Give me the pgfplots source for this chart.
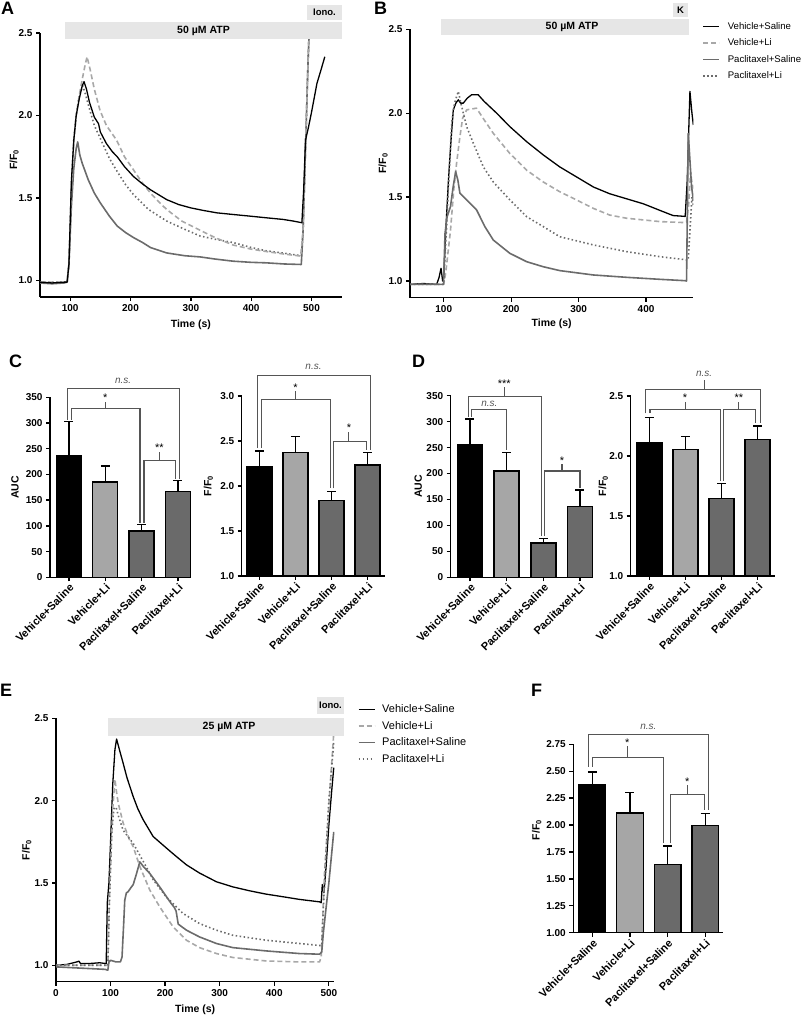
\documentclass[border=0pt]{standalone}
\usepackage{fontspec}
\setmainfont{Liberation Sans}
\usepackage{pgfplots}
\pgfplotsset{compat=1.18}

\definecolor{lgray}{HTML}{A8A8A8}
\definecolor{dgray}{HTML}{6B6B6B}
\definecolor{barlight}{HTML}{A6A6A6}
\definecolor{bardark}{HTML}{6A6A6A}
\definecolor{atpbar}{HTML}{E6E6E6}
\definecolor{brk}{HTML}{555555}
\definecolor{nsgray}{HTML}{555555}

\newcommand\fs[1]{\fontsize{#1}{#1}\selectfont}

\tikzset{
 VS/.style={black, line width=1.3pt, line join=round},
 VL/.style={lgray, line width=1.6pt, dash pattern=on 5pt off 3pt, line join=round},
 PS/.style={dgray, line width=1.6pt, line join=round},
 PL/.style={dgray, line width=1.6pt, dash pattern=on 1.5pt off 2.5pt, line join=round},
 brk/.style={draw=brk, line width=1.1pt},
 ns/.style={anchor=south, inner sep=0pt, font=\fs{10}\itshape, text=nsgray},
 star/.style={anchor=south, inner sep=0pt, font=\fs{11}},
}

\pgfplotsset{
 base/.style={
   scale only axis, axis lines=left, axis line style={-, line width=1.4pt},
   tick align=outside, major tick length=4pt, tick style={line width=1.3pt, black},
   /pgf/number format/assume math mode=true,
   tick label style={font=\fs{10}\bfseries},
   label style={font=\fs{10.5}\bfseries},
   anchor=south west,
 },
 trace/.style={base, ymin=0.9, ymax=2.5, ytick={1,1.5,2,2.5},
   yticklabel style={/pgf/number format/.cd, fixed, fixed zerofill, precision=1},
   xlabel={Time (s)}, ylabel={F/F\textsubscript{0}},
   xlabel style={anchor=center}, ylabel style={anchor=center}},
 barax/.style={base, clip=false, xtick={0,1,2,3},
   xticklabels={Vehicle+Saline, Vehicle+Li, Paclitaxel+Saline, Paclitaxel+Li},
   xticklabel style={rotate=45, anchor=north east, font=\fs{11}\bfseries, inner sep=1pt},
   ylabel style={anchor=center}},
 bb/.style={ybar, bar width=#1, draw=black, line width=1.4pt,
   error bars/y dir=plus, error bars/y explicit,
   error bars/error bar style={line width=1.3pt, black, solid},
   error bars/error mark options={rotate=90, mark size=4.5pt, line width=1.3pt, black}},
 bb/.default=25pt,
 leg/.style={legend cell align=left,
   legend image code/.code={\draw[##1] (0pt,0pt) -- (16pt,0pt);}},
}

\begin{document}
\begin{tikzpicture}
\useasboundingbox (0,0) rectangle (800pt,1016pt);

% ---------------- Panel A ----------------
\begin{axis}[trace, at={(40pt,719pt)}, width=301.7pt, height=264pt,
  xmin=50, xmax=550, xtick={100,200,300,400,500},
  xlabel style={at={(axis description cs:0.5,-0.106)}},
  ylabel style={at={(axis description cs:-0.086,0.52)}}]
\addplot[PS] coordinates {(50,0.985)(70,0.98)(90,0.985)(95,0.99)(98,1.1)(102,1.45)(106,1.68)(110,1.8)(112.5,1.84)(116,1.76)(120,1.71)(125,1.66)(130,1.61)(140,1.53)(150,1.47)(165,1.39)(178,1.33)(192,1.29)(205,1.26)(220,1.23)(233,1.20)(260,1.167)(290,1.15)(315,1.143)(340,1.13)(370,1.117)(400,1.11)(425,1.107)(455,1.10)(483,1.097)(486,1.3)(490,1.8)(494,2.3)(498,2.7)};
\addplot[PL] coordinates {(50,0.99)(95,0.99)(98,1.1)(102,1.55)(106,1.85)(110,2.0)(115,2.12)(121,2.18)(126,2.12)(132,2.04)(140,1.94)(150,1.86)(165,1.74)(178,1.66)(192,1.58)(205,1.52)(230,1.43)(260,1.36)(290,1.31)(315,1.27)(340,1.25)(370,1.23)(400,1.2)(425,1.18)(455,1.165)(483,1.15)(486,1.3)(490,1.8)(494,2.3)(498,2.7)};
\addplot[VL] coordinates {(50,0.99)(95,0.99)(98,1.1)(102,1.55)(106,1.85)(110,2.0)(115,2.12)(120,2.22)(125,2.31)(128,2.356)(133,2.28)(140,2.16)(149.5,2.03)(160,1.94)(177,1.85)(190,1.75)(205,1.67)(218,1.6)(233,1.53)(246,1.48)(260,1.43)(285,1.36)(315,1.305)(340,1.26)(370,1.215)(400,1.19)(426,1.175)(455,1.16)(482,1.148)(486,1.3)(490,1.8)(494,2.3)(498,2.7)};
\addplot[VS] coordinates {(50,0.99)(70,0.985)(90,0.99)(95,0.99)(98,1.1)(102,1.6)(106,1.85)(110,2.0)(115,2.1)(120,2.18)(123,2.205)(127,2.16)(132,2.08)(140,1.99)(147,1.95)(150,1.9)(160,1.83)(170,1.78)(178,1.75)(190,1.69)(205,1.63)(220,1.585)(233,1.55)(260,1.49)(280,1.46)(300,1.44)(320,1.425)(343,1.41)(370,1.40)(398,1.39)(425,1.38)(453,1.37)(470,1.36)(484,1.35)(487,1.55)(490,1.85)(495,1.93)(500,2.02)(509,2.195)(516,2.28)(522,2.356)};
\end{axis}

% ---------------- Panel B ----------------
\begin{axis}[trace, leg, at={(410pt,718.2pt)}, width=283.3pt, height=268.5pt,
  xmin=50, xmax=470, xtick={100,200,300,400},
  xlabel style={at={(axis description cs:0.5,-0.095)}},
  ylabel style={at={(axis description cs:-0.095,0.5)}},
  legend style={at={(axis description cs:1.0307,1.026)}, anchor=north west, draw=none, fill=none,
    inner sep=0pt, font=\fs{9.6}, row sep=8pt, nodes={inner sep=0pt},
    /tikz/every odd column/.append style={column sep=8pt}}]
\addplot[VS] coordinates {(50,0.98)(70,0.985)(89.5,0.98)(93,1.02)(96,1.076)(98.4,1.0)(100,1.02)(103,1.3)(107,1.6)(111,1.85)(114.2,2.02)(118,2.06)(121.6,2.08)(125,2.06)(129,2.06)(135,2.09)(141.4,2.11)(151,2.11)(160,2.07)(178.5,2.0)(198,1.92)(223,1.83)(248,1.75)(272,1.68)(297,1.62)(322,1.56)(346,1.52)(371,1.49)(396,1.46)(421,1.42)(440,1.39)(458,1.385)(461,1.6)(465,2.13)(468,2.0)(470,1.93)};
\addlegendentry{Vehicle+Saline}
\addplot[VL] coordinates {(50,0.98)(100,0.98)(103,1.05)(110,1.3)(115,1.55)(119,1.7)(124,1.86)(128,1.97)(134,2.02)(148.5,2.03)(160,1.96)(173.5,1.88)(198,1.76)(223,1.66)(247.6,1.59)(272,1.532)(297,1.483)(321.7,1.433)(346,1.393)(371,1.374)(396,1.364)(420.6,1.354)(457.6,1.348)(460,1.35)(463,1.45)(466,1.65)(468,1.58)(470,1.55)};
\addlegendentry{Vehicle+Li}
\addplot[PS] coordinates {(50,0.98)(99.7,0.98)(101.9,1.284)(105,1.383)(110,1.443)(114,1.562)(117.7,1.652)(121,1.6)(124,1.523)(134,1.483)(148.8,1.423)(161,1.324)(173.5,1.244)(198,1.165)(223,1.115)(247.6,1.085)(272,1.062)(321.7,1.036)(371,1.022)(420.6,1.010)(457.6,1.002)(460,1.0)(462.5,1.88)(467.5,1.56)(470,1.483)};
\addlegendentry{Paclitaxel+Saline}
\addplot[PL] coordinates {(50,0.98)(99,0.98)(100,1.0)(104,1.3)(108,1.65)(112,1.95)(116,2.06)(121.6,2.13)(126,2.05)(134,1.92)(144,1.82)(158.7,1.68)(173.5,1.59)(198,1.483)(223,1.383)(247.6,1.324)(272,1.264)(321.7,1.215)(371,1.175)(420.6,1.145)(462.5,1.125)(465,1.3)(468,1.5)(470,1.45)};
\addlegendentry{Paclitaxel+Li}
\end{axis}

% ---------------- Panel C left ----------------
\begin{axis}[barax, at={(50pt,438.7pt)}, width=140.7pt, height=180pt,
  xmin=-0.52, xmax=3.35, ymin=0, ymax=350, ytick={0,50,...,350}, ylabel={AUC},
  ylabel style={at={(axis description cs:-0.249,0.5)}}]
\addplot[bb, fill=black] coordinates {(0,237) +- (0,66)};
\addplot[bb, fill=barlight] coordinates {(1,185.5) +- (0,31)};
\addplot[bb, fill=bardark] coordinates {(2,90) +- (0,13)};
\addplot[bb, fill=bardark] coordinates {(3,167) +- (0,21)};
\draw[brk] (axis cs:-0.05,306) -- (axis cs:-0.05,367) -- (axis cs:3.03,367) -- (axis cs:3.03,192);
\node[ns, yshift=5pt] at (axis cs:1.49,367) {n.s.};
\draw[brk] (axis cs:0.075,306) -- (axis cs:0.075,328) -- (axis cs:1.956,328) -- (axis cs:1.956,106);
\draw[brk] (axis cs:1.0,328) -- (axis cs:1.0,341.6);
\node[star] at (axis cs:1.0,341.6) {*};
\draw[brk] (axis cs:2.066,106) -- (axis cs:2.066,226.8) -- (axis cs:2.92,226.8) -- (axis cs:2.92,192);
\draw[brk] (axis cs:2.49,226.8) -- (axis cs:2.49,244.4);
\node[star] at (axis cs:2.49,244.4) {**};
\end{axis}

% ---------------- Panel C right ----------------
\begin{axis}[barax, at={(241.7pt,440pt)}, width=143.3pt, height=180pt,
  xmin=-0.49, xmax=3.48, ymin=1, ymax=3, ytick={1,1.5,2,2.5,3},
  yticklabel style={/pgf/number format/.cd, fixed, fixed zerofill, precision=1},
  ylabel={F/F\textsubscript{0}},
  ylabel style={at={(axis description cs:-0.233,0.5)}}]
\addplot[bb, fill=black] coordinates {(0,2.214) +- (0,0.176)};
\addplot[bb, fill=barlight] coordinates {(1,2.37) +- (0,0.178)};
\addplot[bb, fill=bardark] coordinates {(2,1.84) +- (0,0.10)};
\addplot[bb, fill=bardark] coordinates {(3,2.233) +- (0,0.14)};
\draw[brk] (axis cs:-0.05,2.42) -- (axis cs:-0.05,3.23) -- (axis cs:3.07,3.23) -- (axis cs:3.07,2.40);
\node[ns, yshift=5pt] at (axis cs:1.5,3.23) {n.s.};
\draw[brk] (axis cs:0.05,2.42) -- (axis cs:0.05,2.96) -- (axis cs:1.96,2.96) -- (axis cs:1.96,1.974);
\draw[brk] (axis cs:1.0,2.96) -- (axis cs:1.0,3.05);
\node[star] at (axis cs:1.0,3.05) {*};
\draw[brk] (axis cs:2.05,1.974) -- (axis cs:2.05,2.49) -- (axis cs:2.96,2.49) -- (axis cs:2.96,2.40);
\draw[brk] (axis cs:2.48,2.49) -- (axis cs:2.48,2.6);
\node[star] at (axis cs:2.48,2.6) {*};
\end{axis}

% ---------------- Panel D left ----------------
\begin{axis}[barax, at={(450.7pt,438.7pt)}, width=141pt, height=181.6pt,
  xmin=-0.526, xmax=3.32, ymin=0, ymax=350, ytick={0,50,...,350}, ylabel={AUC},
  ylabel style={at={(axis description cs:-0.23,0.5)}}]
\addplot[bb, fill=black] coordinates {(0,255) +- (0,50)};
\addplot[bb, fill=barlight] coordinates {(1,205) +- (0,36)};
\addplot[bb, fill=bardark] coordinates {(2,66) +- (0,9)};
\addplot[bb, fill=bardark] coordinates {(3,137) +- (0,31)};
\draw[brk] (axis cs:-0.05,309) -- (axis cs:-0.05,349) -- (axis cs:1.94,349) -- (axis cs:1.94,80);
\draw[brk] (axis cs:0.935,349) -- (axis cs:0.935,366);
\node[star] at (axis cs:0.935,366) {***};
\draw[brk] (axis cs:0.05,309) -- (axis cs:0.05,324) -- (axis cs:1.0,324) -- (axis cs:1.0,245);
\node[ns, yshift=2pt] at (axis cs:0.53,324) {n.s.};
\draw[brk] (axis cs:2.02,80) -- (axis cs:2.02,204.8) -- (axis cs:3.0,204.8) -- (axis cs:3.0,171.4);
\draw[brk] (axis cs:2.51,204.8) -- (axis cs:2.51,217.7);
\node[star] at (axis cs:2.51,217.7) {*};
\end{axis}

% ---------------- Panel D right ----------------
\begin{axis}[barax, at={(630.7pt,440pt)}, width=144.3pt, height=180pt,
  xmin=-0.515, xmax=3.48, ymin=1, ymax=2.5, ytick={1,1.5,2,2.5},
  yticklabel style={/pgf/number format/.cd, fixed, fixed zerofill, precision=1},
  ylabel={F/F\textsubscript{0}},
  ylabel style={at={(axis description cs:-0.19,0.5)}}]
\addplot[bb, fill=black] coordinates {(0,2.114) +- (0,0.206)};
\addplot[bb, fill=barlight] coordinates {(1,2.056) +- (0,0.108)};
\addplot[bb, fill=bardark] coordinates {(2,1.647) +- (0,0.123)};
\addplot[bb, fill=bardark] coordinates {(3,2.136) +- (0,0.114)};
\draw[brk] (axis cs:-0.1,2.356) -- (axis cs:-0.1,2.556) -- (axis cs:3.07,2.556) -- (axis cs:3.07,2.278);
\draw[brk] (axis cs:1.52,2.556) -- (axis cs:1.52,2.63);
\node[ns, yshift=4pt] at (axis cs:1.52,2.63) {n.s.};
\draw[brk] (axis cs:0.02,2.356) -- (axis cs:0.02,2.389) -- (axis cs:1.96,2.389) -- (axis cs:1.96,1.794);
\draw[brk] (axis cs:0.99,2.389) -- (axis cs:0.99,2.45);
\node[star] at (axis cs:0.99,2.45) {*};
\draw[brk] (axis cs:2.05,1.794) -- (axis cs:2.05,2.389) -- (axis cs:2.95,2.389) -- (axis cs:2.95,2.278);
\draw[brk] (axis cs:2.48,2.389) -- (axis cs:2.48,2.45);
\node[star] at (axis cs:2.48,2.45) {**};
\end{axis}

% ---------------- Panel E ----------------
\begin{axis}[trace, leg, at={(56pt,34.3pt)}, width=278.3pt, height=263.4pt,
  xmin=0, xmax=510, xtick={0,100,200,300,400,500},
  xlabel style={at={(axis description cs:0.5,-0.105)}},
  ylabel style={at={(axis description cs:-0.105,0.5)}},
  legend style={at={(axis description cs:1.084,1.0516)}, anchor=north west, draw=none, fill=none,
    inner sep=0pt, font=\fs{11}, row sep=7pt, nodes={inner sep=0pt},
    /tikz/every odd column/.append style={column sep=6.7pt}}]
\addplot[VS] coordinates {(0,1.0)(20,1.005)(38,1.02)(42,1.025)(45,1.01)(60,1.01)(80,1.015)(92,1.01)(94,1.38)(97,1.5)(100,1.75)(104,2.1)(108,2.31)(111,2.374)(117,2.3)(123,2.228)(130,2.14)(141.4,2.025)(150,1.95)(159.7,1.884)(178,1.782)(196,1.73)(210,1.69)(220.7,1.66)(239,1.61)(263,1.56)(294,1.507)(324,1.476)(355,1.452)(385,1.432)(416,1.416)(446,1.40)(483,1.385)(486,1.38)(488,1.49)(491,1.44)(495,1.6)(500,1.85)(505,2.05)(509,2.2)};
\addlegendentry{Vehicle+Saline}
\addplot[VL] coordinates {(0,1.0)(95,1.0)(97,1.3)(100,1.6)(104,1.95)(108,2.13)(111,2.05)(114,1.985)(123,1.864)(135,1.76)(141.5,1.72)(153.6,1.60)(172,1.456)(190,1.355)(214.6,1.233)(239,1.152)(263,1.107)(294,1.071)(324,1.047)(385,1.026)(446,1.02)(483,1.02)(486,1.05)(492,1.557)(501,2.02)(509,2.41)};
\addlegendentry{Vehicle+Li}
\addplot[PS] coordinates {(0,0.99)(30,0.985)(60,0.98)(90,0.975)(95,0.97)(97,1.02)(100,1.03)(110,1.02)(118,1.02)(121,1.05)(124,1.25)(126,1.395)(129,1.44)(132,1.446)(137,1.47)(141.5,1.49)(147,1.55)(153.6,1.628)(160,1.60)(172,1.557)(190,1.476)(210,1.38)(217,1.35)(220,1.33)(224,1.25)(239,1.213)(263,1.172)(294,1.132)(324,1.107)(385,1.087)(446,1.071)(483,1.067)(487,1.08)(490,1.2)(500,1.5)(509,1.81)};
\addlegendentry{Paclitaxel+Saline}
\addplot[PL] coordinates {(0,1.0)(95,1.0)(98,1.4)(102,1.8)(106,1.95)(110,1.96)(115,1.9)(123,1.82)(141.5,1.74)(160,1.63)(178,1.52)(202,1.415)(233,1.314)(263,1.253)(294,1.213)(324,1.182)(385,1.152)(446,1.132)(483,1.12)(487,1.12)(492,1.5)(500,2.0)(509,2.35)};
\addlegendentry{Paclitaxel+Li}
\end{axis}

% ---------------- Panel F ----------------
\begin{axis}[barax, at={(573.3pt,83.3pt)}, width=150pt, height=188.4pt,
  xmin=-0.504, xmax=3.48, ymin=1, ymax=2.75, ytick={1,1.25,1.5,1.75,2,2.25,2.5,2.75},
  yticklabel style={/pgf/number format/.cd, fixed, fixed zerofill, precision=2},
  ylabel={F/F\textsubscript{0}},
  ylabel style={at={(axis description cs:-0.244,0.545)}}]
\addplot[bb=26.7pt, fill=black] coordinates {(0,2.373) +- (0,0.121)};
\addplot[bb=26.7pt, fill=barlight] coordinates {(1,2.11) +- (0,0.195)};
\addplot[bb=26.7pt, fill=bardark] coordinates {(2,1.632) +- (0,0.174)};
\addplot[bb=26.7pt, fill=bardark] coordinates {(3,1.994) +- (0,0.112)};
\draw[brk] (axis cs:-0.106,2.543) -- (axis cs:-0.106,2.844) -- (axis cs:3.09,2.844) -- (axis cs:3.09,2.14);
\node[ns, yshift=4pt] at (axis cs:1.49,2.844) {n.s.};
\draw[brk] (axis cs:0.01,2.543) -- (axis cs:0.01,2.63) -- (axis cs:1.90,2.63) -- (axis cs:1.90,1.83);
\draw[brk] (axis cs:0.93,2.63) -- (axis cs:0.93,2.73);
\node[star] at (axis cs:0.93,2.73) {*};
\draw[brk] (axis cs:2.08,1.83) -- (axis cs:2.08,2.283) -- (axis cs:2.97,2.283) -- (axis cs:2.97,2.14);
\draw[brk] (axis cs:2.52,2.283) -- (axis cs:2.52,2.37);
\node[star] at (axis cs:2.52,2.37) {*};
\end{axis}

% ---------------- annotations (pixel coordinates) ----------------
\begin{scope}[shift={(0pt,1016pt)}, x=1pt, y=-1pt]
 % A
 \fill[atpbar] (65,22) rectangle (342,39);
 \node[font=\fs{10.5}\bfseries, inner sep=0pt] at (203.5,30.5) {50 µM ATP};
 \fill[atpbar] (307,5) rectangle (342,20);
 \node[font=\fs{9.5}\bfseries, inner sep=0pt] at (324.5,12.5) {Iono.};
 % B
 \fill[atpbar] (441,19) rectangle (689,35);
 \node[font=\fs{10.5}\bfseries, inner sep=0pt] at (572,27) {50 µM ATP};
 \fill[atpbar] (673,3) rectangle (688,17);
 \node[font=\fs{9.5}\bfseries, inner sep=0pt] at (680.5,10) {K};
 % E
 \fill[atpbar] (107.7,718.3) rectangle (344.3,736);
 \node[font=\fs{10.5}\bfseries, inner sep=0pt] at (229,727.2) {25 µM ATP};
 \fill[atpbar] (316.7,697.3) rectangle (344.3,714);
 \node[font=\fs{9.5}\bfseries, inner sep=0pt] at (330.5,705.7) {Iono.};
 % panel letters
 \node[anchor=base west, inner sep=0pt, font=\fs{18}\bfseries] at (1,15) {A};
 \node[anchor=base west, inner sep=0pt, font=\fs{18}\bfseries] at (374,15) {B};
 \node[anchor=base west, inner sep=0pt, font=\fs{18}\bfseries] at (9,368) {C};
 \node[anchor=base west, inner sep=0pt, font=\fs{18}\bfseries] at (412,368) {D};
 \node[anchor=base west, inner sep=0pt, font=\fs{18}\bfseries] at (0,697) {E};
 \node[anchor=base west, inner sep=0pt, font=\fs{18}\bfseries] at (531,697) {F};
\end{scope}
\end{tikzpicture}
\end{document}
